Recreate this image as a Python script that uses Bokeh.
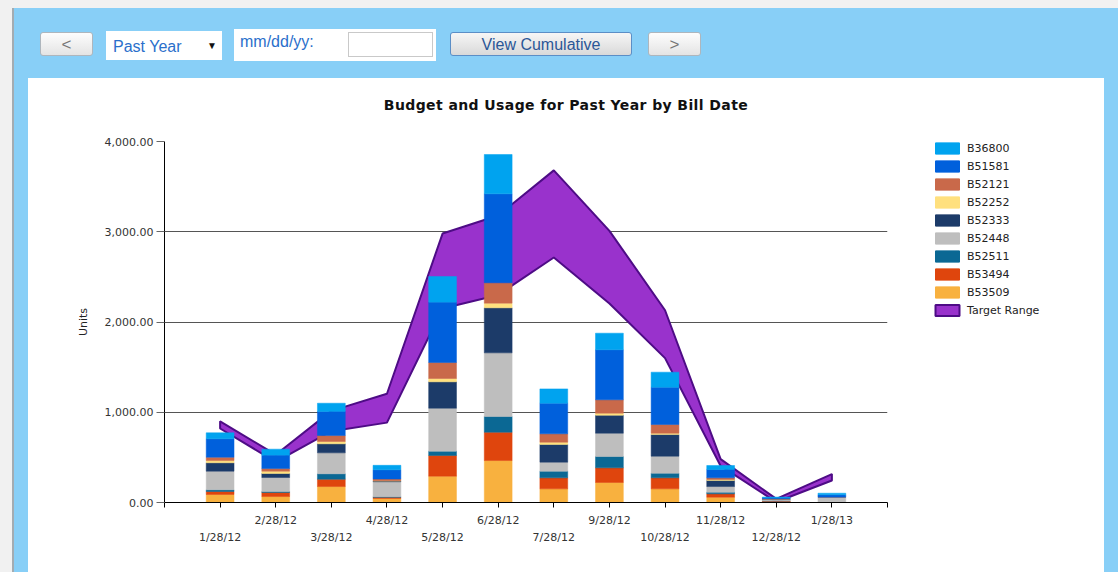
from bokeh.plotting import figure
from bokeh.models import (ColumnDataSource, Range1d, FixedTicker, NumeralTickFormatter,
                          LinearAxis, Legend, LegendItem, Div)
from bokeh.layouts import column, row
from bokeh.embed import file_html
from bokeh.resources import INLINE

# ---------------- data ----------------
dates = ["1/28/12", "2/28/12", "3/28/12", "4/28/12", "5/28/12", "6/28/12",
         "7/28/12", "9/28/12", "10/28/12", "11/28/12", "12/28/12", "1/28/13"]

B36800 = [66, 67, 92, 50, 285, 436, 158, 184, 166, 44, 8, 18]
B51581 = [204, 148, 266, 102, 668, 986, 340, 554, 414, 93, 10, 26]
B52121 = [37, 29, 66, 18, 177, 225, 93, 148, 96, 18, 3, 0]
B52252 = [25, 25, 26, 4, 37, 52, 25, 23, 15, 10, 0, 0]
B52333 = [93, 45, 100, 8, 292, 499, 196, 199, 240, 68, 5, 0]
B52448 = [206, 155, 232, 165, 476, 705, 100, 258, 188, 63, 15, 59]
B52511 = [19, 11, 60, 8, 48, 174, 74, 126, 52, 18, 3, 0]
B53494 = [33, 45, 81, 12, 229, 314, 122, 162, 122, 37, 8, 0]
B53509 = [89, 66, 177, 45, 292, 465, 151, 222, 151, 59, 8, 0]

target_upper = [900, 530, 1015, 1205, 2980, 3180, 3680, 3010, 2130, 480, 40, 315]
target_lower = [820, 450, 790, 885, 2150, 2300, 2715, 2205, 1600, 405, 5, 244]

series_names = ["B36800", "B51581", "B52121", "B52252", "B52333",
                "B52448", "B52511", "B53494", "B53509"]
series_values = [B36800, B51581, B52121, B52252, B52333,
                 B52448, B52511, B53494, B53509]
series_colors = ["#00A3EF", "#0060DC", "#C9694A", "#FFE07E", "#1C3B69",
                 "#BEBEBE", "#0B6894", "#DF450D", "#F8B13F"]
band_label = "Target Range"
band_fill = "#9932CC"
band_line = "#4E0C86"

y_ticks = [0, 1000, 2000, 3000, 4000]

FONT = "DejaVu Sans"

# ---------------- main figure ----------------
xs = list(range(len(dates)))
data = {"x": xs}
for n, v in zip(series_names, series_values):
    data[n] = v
src = ColumnDataSource(data)

p = figure(width=880, height=454, x_range=Range1d(-1, len(dates)),
           y_range=Range1d(0, 4000), output_backend="svg", toolbar_location=None,
           min_border_left=136, min_border_right=21, min_border_top=23,
           min_border_bottom=70, outline_line_color=None,
           background_fill_color="white", border_fill_color="white")

# target range band (under bars)
band_x = xs + xs[::-1]
band_y = target_upper + target_lower[::-1]
p.patch(band_x, band_y, fill_color=band_fill, line_color=band_line, line_width=2)

stack_names = series_names[::-1]
stack_colors = series_colors[::-1]
p.vbar_stack(stack_names, x="x", width=0.5, color=stack_colors,
             line_width=0.5, source=src)

# y axis
p.yaxis.ticker = FixedTicker(ticks=y_ticks)
p.yaxis.formatter = NumeralTickFormatter(format="0,0.00")
p.yaxis.axis_label = "Units"
p.yaxis.axis_label_text_font = FONT
p.yaxis.axis_label_text_font_style = "normal"
p.yaxis.axis_label_text_font_size = "11px"
p.yaxis.axis_label_text_color = "#222222"
p.yaxis.axis_label_standoff = 12
p.yaxis.major_label_text_font = FONT
p.yaxis.major_label_text_font_size = "11px"
p.yaxis.major_label_text_color = "#333333"
p.yaxis.major_label_standoff = 3
p.yaxis.major_tick_out = 8
p.yaxis.major_tick_in = 0
p.yaxis.major_tick_line_color = "#666666"
p.yaxis.minor_tick_line_color = None
p.yaxis.axis_line_color = "#000000"

p.ygrid.ticker = FixedTicker(ticks=y_ticks)
p.ygrid.grid_line_color = "#555555"
p.xgrid.visible = False

# x axis, upper row (odd categories)
all_ticks = list(range(-1, len(dates) + 1))
upper_over = {t: "" for t in all_ticks}
for i, d in enumerate(dates):
    if i % 2 == 1:
        upper_over[i] = d
xa = p.xaxis[0]
xa.ticker = FixedTicker(ticks=all_ticks)
xa.major_label_overrides = upper_over
xa.major_label_text_font = FONT
xa.major_label_text_font_size = "11px"
xa.major_label_text_color = "#333333"
xa.major_label_standoff = 6
xa.major_tick_out = 5
xa.major_tick_in = 0
xa.major_tick_line_color = "#000000"
xa.minor_tick_line_color = None
xa.axis_line_color = "#000000"

# x axis, lower row (even categories)
even_ticks = [i for i in xs if i % 2 == 0]
lower_over = {i: dates[i] for i in even_ticks}
xa2 = LinearAxis(ticker=FixedTicker(ticks=even_ticks),
                 major_label_overrides=lower_over)
xa2.major_label_text_font = FONT
xa2.major_label_text_font_size = "11px"
xa2.major_label_text_color = "#333333"
xa2.major_label_standoff = 1
xa2.major_tick_out = 0
xa2.major_tick_in = 0
xa2.major_tick_line_color = None
xa2.minor_tick_line_color = None
xa2.axis_line_color = None
p.add_layout(xa2, "below")

# ---------------- legend figure (same data, kept out of its view) ----------------
lf = figure(width=196, height=454, x_range=Range1d(-100, -99), y_range=Range1d(0, 4000),
            output_backend="svg", toolbar_location=None, x_axis_type=None,
            y_axis_type=None, min_border=0, outline_line_color=None,
            background_fill_color="white", border_fill_color="white")
lf.xgrid.visible = False
lf.ygrid.visible = False
items = []
for n, c in zip(series_names, series_colors):
    r = lf.vbar(x="x", top=n, width=0.5, color=c, source=src)
    items.append(LegendItem(label=n, renderers=[r]))
rb = lf.patch(band_x, band_y, fill_color=band_fill, line_color=band_line, line_width=2)
items.append(LegendItem(label=band_label, renderers=[rb]))
legend = Legend(items=items, location=(24, 185), padding=0, margin=0,
                border_line_color=None, background_fill_alpha=0,
                glyph_width=30, glyph_height=14, label_height=14, spacing=4,
                label_standoff=5, label_text_font=FONT,
                label_text_font_size="11px", label_text_color="#222222")
lf.add_layout(legend, "center")

# ---------------- page chrome ----------------
btn = ("position:absolute;top:32px;height:24px;border:1px solid #aeb6bd;"
       "border-radius:3px;background:linear-gradient(#fdfdfd,#e4e4e4);"
       "color:#777;font-size:17px;line-height:24px;text-align:center;")
controls_html = f"""
<div style="position:relative;width:1118px;height:78px;font-family:'Liberation Sans',Arial,sans-serif;">
  <div style="position:absolute;left:0px;top:0px;width:1118px;height:8px;background:#f1f1f1;"></div>
  <div style="{btn}left:40px;width:53px;">&lt;</div>
  <div style="position:absolute;left:106px;top:31px;width:116px;height:29px;background:#fff;">
    <span style="position:absolute;left:7px;top:5px;color:#2a6fcb;font-size:16px;">Past Year</span>
    <span style="position:absolute;left:101px;top:8px;color:#111;font-size:10px;">&#9660;</span>
  </div>
  <div style="position:absolute;left:234px;top:29px;width:202px;height:32px;background:#fff;">
    <span style="position:absolute;left:6px;top:2px;color:#2a6fcb;font-size:16px;">mm/dd/yy:</span>
    <div style="position:absolute;left:114px;top:3px;width:85px;height:25px;border:1px solid #c9c9c9;background:#fff;"></div>
  </div>
  <div style="position:absolute;left:450px;top:32px;width:182px;height:24px;border:1px solid #5b8ec6;border-radius:3px;
              background:linear-gradient(#f6f6f6,#d9d9d9);color:#2b5797;font-size:16px;line-height:24px;text-align:center;">View Cumulative</div>
  <div style="{btn}left:648px;width:53px;">&gt;</div>
</div>
"""
controls = Div(text=controls_html, width=1118, height=78, margin=0)

title_div = Div(text=("<div style=\"width:1076px;text-align:center;font-family:'DejaVu Sans';"
                      "font-weight:bold;font-size:14px;letter-spacing:0.4px;color:#111;padding-top:17px;\">"
                      "Budget and Usage for Past Year by Bill Date</div>"),
                width=1076, height=40, margin=0)

panel = column(title_div, row(p, lf, width=1076, height=454), width=1076,
               margin=(0, 0, 0, 28), styles={"background-color": "#ffffff"})

outer = column(controls, panel, width=1118, height=572,
               styles={"background": "linear-gradient(to right, #f1f1f1 0px, #f1f1f1 12px, "
                                     "#a3acb2 12px, #a3acb2 14px, #88CFF7 14px)"})

open("out.html", "w").write(file_html(outer, INLINE))
